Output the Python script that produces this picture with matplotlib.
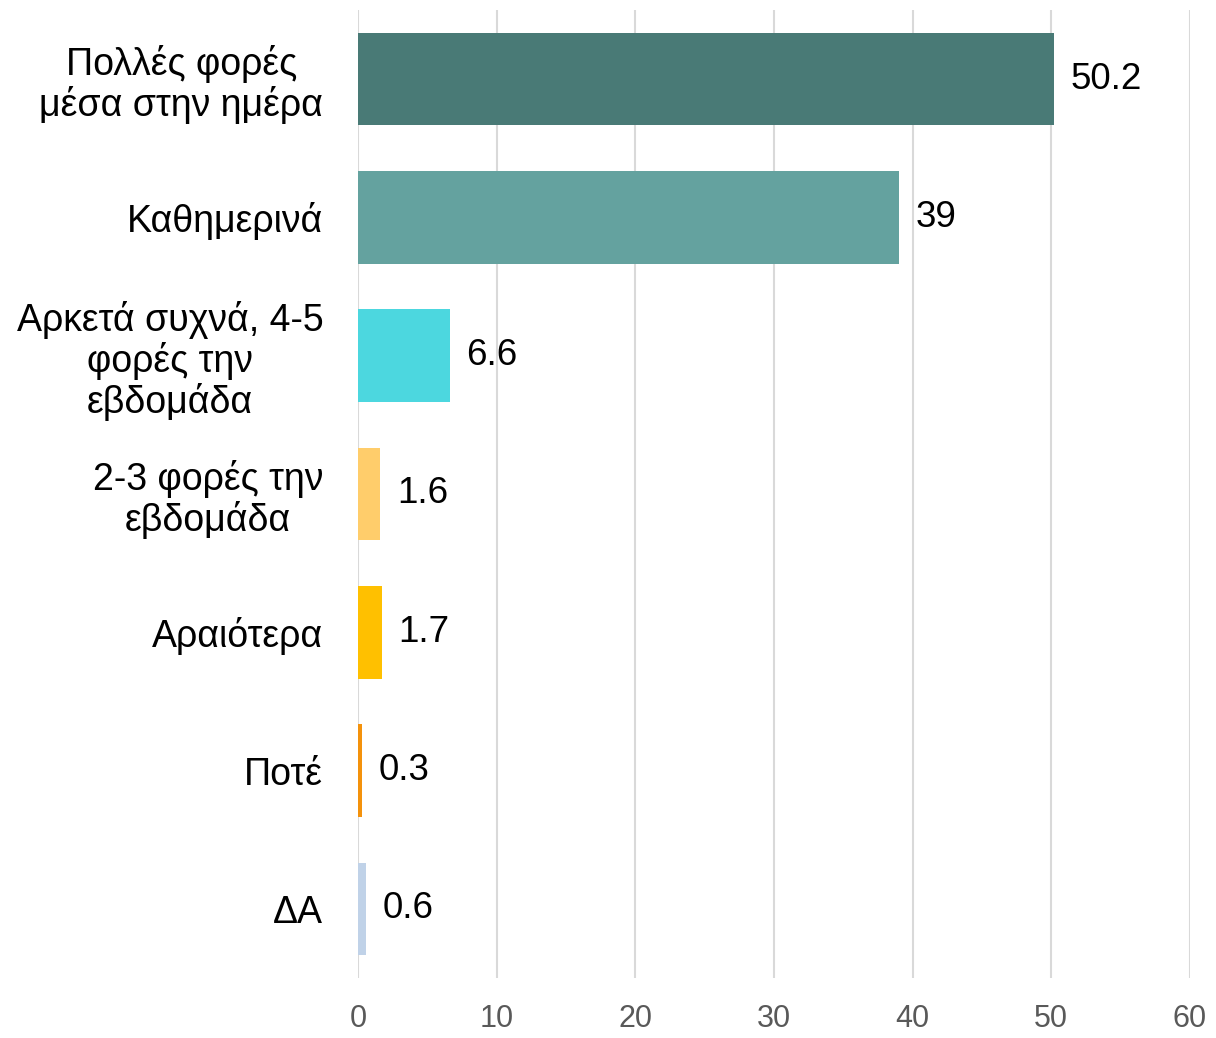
import matplotlib.pyplot as plt

# Survey answers and their percentages
categories = [
    "Πολλές φορές\nμέσα στην ημέρα",
    "Καθημερινά",
    "Αρκετά συχνά, 4-5\nφορές την\nεβδομάδα",
    "2-3 φορές την\nεβδομάδα",
    "Αραιότερα",
    "Ποτέ",
    "ΔΑ",
]
values = [50.2, 39, 6.6, 1.6, 1.7, 0.3, 0.6]
value_labels = ["50.2", "39", "6.6", "1.6", "1.7", "0.3", "0.6"]
colors = ["#497A76", "#64A29F", "#4CD7DF", "#FFCD6B", "#FFC000", "#F4920C", "#C0D2E8"]
xticks = [0, 10, 20, 30, 40, 50, 60]

plt.rcParams["font.family"] = ["Liberation Sans", "DejaVu Sans"]

fig = plt.figure(figsize=(12.16, 10.38), dpi=100)
ax = fig.add_axes([0.2944, 0.0578, 0.6842, 0.9326])

pos = list(range(len(categories)))
ax.barh(pos, values, height=0.67, color=colors, zorder=2)

# value labels next to each bar
for y, v, lab in zip(pos, values, value_labels):
    ax.text(v + 1.2, y, lab, va="center", ha="left", fontsize=26.5, color="black")

ax.set_xlim(0, 60)
ax.set_ylim(6.5, -0.5)
ax.set_xticks(xticks)
ax.set_xticklabels([str(t) for t in xticks], fontsize=22, color="#595959",
                   family=["Liberation Sans Narrow", "Liberation Sans"])
ax.set_yticks(pos)
ax.set_yticklabels(categories, fontsize=27, multialignment="center", linespacing=1.1)

ax.tick_params(axis="both", length=0)
ax.tick_params(axis="y", pad=25)
ax.tick_params(axis="x", pad=19)
ax.grid(axis="x", color="#D9D9D9", linewidth=1.5, zorder=0)
for s in ax.spines.values():
    s.set_visible(False)

fig.savefig("out.png", dpi=100)
